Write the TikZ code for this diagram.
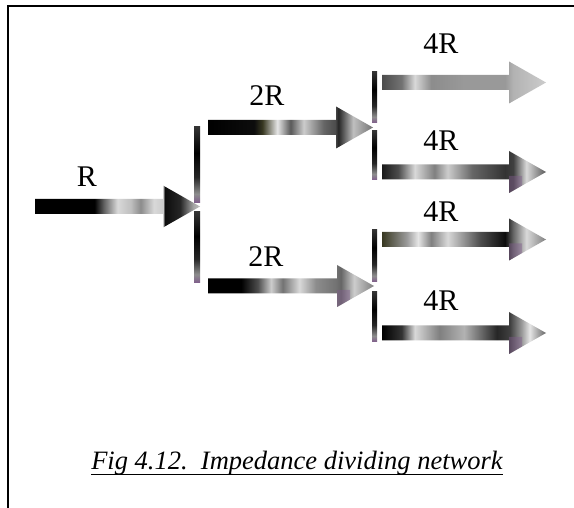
\documentclass[tikz,border=0pt]{standalone}
\usepackage{fontspec}
\setmainfont{Liberation Serif}
\usetikzlibrary{calc}
\definecolor{darkol}{rgb}{0.22,0.22,0.13}
\definecolor{purp}{rgb}{0.50,0.36,0.55}
\pgfdeclarehorizontalshading{shR}{100bp}{color(0bp)=(black); color(25bp)=(black); color(43bp)=(black); color(46bp)=(black!60); color(50bp)=(black!15); color(54bp)=(black!25); color(57bp)=(black!45); color(61bp)=(black!15); color(63.8bp)=(black!20); color(64.3bp)=(black!95); color(69bp)=(black!85); color(73bp)=(black!35); color(75bp)=(black!25); color(100bp)=(black!25)}
\pgfdeclarehorizontalshading{shTa}{100bp}{color(0bp)=(black); color(25bp)=(black); color(39bp)=(black!95); color(41.5bp)=(darkol); color(46bp)=(black!10); color(50bp)=(black!65); color(54bp)=(black!20); color(60bp)=(black!60); color(63.5bp)=(black!70); color(64.5bp)=(black!85); color(69bp)=(black!25); color(75bp)=(black!55); color(100bp)=(black!55)}
\pgfdeclarehorizontalshading{shTb}{100bp}{color(0bp)=(black); color(25bp)=(black); color(35bp)=(black); color(40bp)=(black!70); color(44bp)=(black!20); color(47.5bp)=(black!55); color(52.5bp)=(black!15); color(57.5bp)=(black!45); color(63.5bp)=(black!55); color(65bp)=(black!60); color(69bp)=(black!20); color(75bp)=(black!50); color(100bp)=(black!50)}
\pgfdeclarehorizontalshading{shFa}{100bp}{color(0bp)=(black!70); color(25bp)=(black!70); color(31bp)=(black!55); color(35bp)=(black!15); color(40bp)=(black!45); color(50bp)=(black!40); color(62.5bp)=(black!40); color(65bp)=(black!30); color(70bp)=(black!25); color(75bp)=(black!20); color(100bp)=(black!20)}
\pgfdeclarehorizontalshading{shFb}{100bp}{color(0bp)=(black!90); color(25bp)=(black!90); color(30bp)=(black!70); color(35bp)=(black!15); color(41bp)=(black!50); color(45bp)=(black!20); color(52.5bp)=(black!60); color(62.5bp)=(black!80); color(65bp)=(black!75); color(69bp)=(black!15); color(75bp)=(black!65); color(100bp)=(black!65)}
\pgfdeclarehorizontalshading{shFc}{100bp}{color(0bp)=(darkol); color(25bp)=(darkol); color(32.5bp)=(black!40); color(36bp)=(black!10); color(40bp)=(black!50); color(45bp)=(black!15); color(55bp)=(black!70); color(62.5bp)=(black!95); color(65bp)=(black!60); color(69bp)=(black!15); color(75bp)=(black!50); color(100bp)=(black!50)}
\pgfdeclarehorizontalshading{shFd}{100bp}{color(0bp)=(black); color(25bp)=(black); color(31bp)=(black!80); color(35bp)=(black!15); color(42.5bp)=(black!50); color(50bp)=(black!30); color(60bp)=(black!85); color(64bp)=(black!75); color(67.5bp)=(black!40); color(70bp)=(black!10); color(75bp)=(black!60); color(100bp)=(black!60)}
\pgfdeclareverticalshading{barsh}{100bp}{color(0bp)=(purp); color(25bp)=(purp); color(31bp)=(black!45); color(42bp)=(black!85); color(58bp)=(black); color(75bp)=(black!80); color(100bp)=(black!80)}
\tikzset{
  lbl/.style={font=\fontsize{30}{34}\selectfont, inner sep=0pt},
  captext/.style={font=\fontsize{26.5}{31}\selectfont\itshape, inner sep=0pt, anchor=base},
  framedge/.style={line width=1.6pt, black},
  tint/.style={fill=purp, fill opacity=0.45, draw=none}
}
% #1 start x, #2 tip x, #3 centre y, #4 shading
\newcommand{\metarrow}[4]{%
  \path[shading=#4] (#1,#3-7.5) -- (#2-37,#3-7.5) -- (#2-37,#3-21) -- (#2,#3)
    -- (#2-37,#3+21) -- (#2-37,#3+7.5) -- (#1,#3+7.5) -- cycle;}
% purple tint on the lower part of a head: #1 tip x, #2 centre y
\newcommand{\headtint}[2]{%
  \path[tint] (#1-37,#2+21) -- (#1-37,#2+4) -- (#1-24,#2+4) -- (#1-24,#2+13.5) -- cycle;}
% #1 left x, #2 right x, #3 top y, #4 bottom y
\newcommand{\metbar}[4]{%
  \path[shading=barsh] (#1,#3) rectangle (#2,#4);}
\begin{document}
\begin{tikzpicture}[x=1pt,y=-1pt]
\useasboundingbox (0,0) rectangle (574,508);
\fill[white] (0,0) rectangle (574,508);
% frame (top and left edges)
\coordinate (fbl) at (8,508);
\coordinate (ftl) at (8,6);
\coordinate (ftr) at (574,6);
\draw[framedge] (fbl) -- (ftl) -- (ftr);
% input arrow
\metarrow{35}{200}{206.5}{shR}
% first split bar
\metbar{194}{200}{127}{203}
\metbar{194}{200}{212}{283}
% 2R arrows
\metarrow{208}{373}{127.5}{shTa}
\metarrow{208}{374}{286}{shTb}
\headtint{374}{286}
% second split bars
\metbar{372}{377}{72}{123}
\metbar{372}{377}{131}{180}
\metbar{372}{377}{230}{282}
\metbar{372}{377}{292}{342}
% 4R arrows
\metarrow{382}{546}{82.5}{shFa}
\metarrow{382}{546}{172}{shFb}
\metarrow{382}{546}{239.5}{shFc}
\metarrow{382}{546}{333}{shFd}
\headtint{546}{172}
\headtint{546}{239.5}
\headtint{546}{333}
% labels
\node[lbl] (lR) at (87,177) {R};
\node[lbl] (l2a) at (267,96) {2R};
\node[lbl] (l2b) at (266,257) {2R};
\node[lbl] (l4a) at (441,44) {4R};
\node[lbl] (l4b) at (441,141) {4R};
\node[lbl] (l4c) at (441,212) {4R};
\node[lbl] (l4d) at (441,301) {4R};
% caption
\node[captext] (caption) at (297,469) {Fig 4.12.\ \ Impedance dividing network};
\draw[line width=1.8pt] ($(caption.base west)+(0,5.5)$) -- ($(caption.base east)+(0,5.5)$);
\end{tikzpicture}
\end{document}
